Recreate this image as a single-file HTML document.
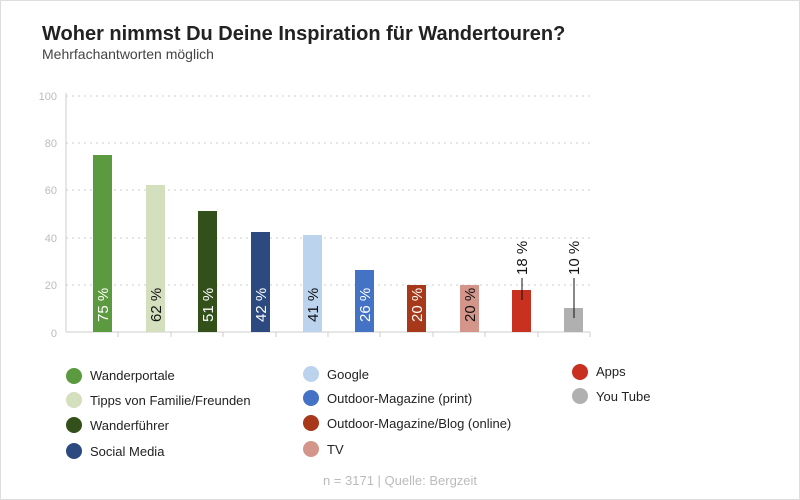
<!DOCTYPE html>
<html><head><meta charset="utf-8"><style>
body{margin:0;background:#fff}
.wrap{position:relative;width:798px;height:498px;border:1px solid #ddd;font-family:"Liberation Sans",sans-serif;overflow:hidden}
</style></head><body><div class="wrap">
<svg width="798" height="498" viewBox="1 1 798 498" xmlns="http://www.w3.org/2000/svg" font-family="Liberation Sans, sans-serif">
<text x="42" y="40" font-size="20" font-weight="bold" fill="#222">Woher nimmst Du Deine Inspiration für Wandertouren?</text>
<text x="42" y="59" font-size="14" fill="#444">Mehrfachantworten möglich</text>
<g stroke="#ccc" stroke-dasharray="2,4" stroke-width="1">
<line x1="66" x2="590" y1="96" y2="96"/><line x1="66" x2="590" y1="143" y2="143"/><line x1="66" x2="590" y1="190" y2="190"/><line x1="66" x2="590" y1="238" y2="238"/><line x1="66" x2="590" y1="285" y2="285"/>
</g>
<line x1="66" y1="93" x2="66" y2="332" stroke="#ccc"/>
<line x1="66" y1="332" x2="590" y2="332" stroke="#ccc"/>
<g stroke="#ccc"><line x1="118" y1="332" x2="118" y2="337"/><line x1="171" y1="332" x2="171" y2="337"/><line x1="223" y1="332" x2="223" y2="337"/><line x1="276" y1="332" x2="276" y2="337"/><line x1="328" y1="332" x2="328" y2="337"/><line x1="380" y1="332" x2="380" y2="337"/><line x1="433" y1="332" x2="433" y2="337"/><line x1="485" y1="332" x2="485" y2="337"/><line x1="538" y1="332" x2="538" y2="337"/><line x1="590" y1="332" x2="590" y2="337"/></g>
<g font-size="11" fill="#bbb" text-anchor="end">
<text x="57" y="100">100</text><text x="57" y="147">80</text><text x="57" y="194">60</text><text x="57" y="242">40</text><text x="57" y="289">20</text><text x="57" y="337">0</text>
</g>
<g>
<rect x="93" y="155" width="19" height="177" fill="#5b9a3f"/>
<rect x="146" y="185" width="19" height="147" fill="#d4dfbe"/>
<rect x="198" y="211" width="19" height="121" fill="#33501b"/>
<rect x="251" y="232" width="19" height="100" fill="#2c4a80"/>
<rect x="303" y="235" width="19" height="97" fill="#bcd3ee"/>
<rect x="355" y="270" width="19" height="62" fill="#4472c4"/>
<rect x="407" y="285" width="19" height="47" fill="#a8381a"/>
<rect x="460" y="285" width="19" height="47" fill="#d4968a"/>
<rect x="512" y="290" width="19" height="42" fill="#c83020"/>
<rect x="564" y="308" width="19" height="24" fill="#b0b0b0"/>
</g>
<g font-size="15">
<text transform="translate(108,322) rotate(-90)" fill="#fff">75 %</text>
<text transform="translate(161,322) rotate(-90)" fill="#111">62 %</text>
<text transform="translate(213,322) rotate(-90)" fill="#fff">51 %</text>
<text transform="translate(266,322) rotate(-90)" fill="#fff">42 %</text>
<text transform="translate(318,322) rotate(-90)" fill="#111">41 %</text>
<text transform="translate(370,322) rotate(-90)" fill="#fff">26 %</text>
<text transform="translate(422,322) rotate(-90)" fill="#fff">20 %</text>
<text transform="translate(475,322) rotate(-90)" fill="#111">20 %</text>
<text transform="translate(527,275) rotate(-90)" fill="#111">18 %</text>
<text transform="translate(579,275) rotate(-90)" fill="#111">10 %</text>
</g>
<line x1="522" y1="278" x2="522" y2="300" stroke="#111"/>
<line x1="574" y1="278" x2="574" y2="318" stroke="#111"/>
<g font-size="13" fill="#222">
<circle cx="74" cy="376" r="8" fill="#5b9a3f"/><text x="90" y="380">Wanderportale</text>
<circle cx="74" cy="400" r="8" fill="#d4dfbe"/><text x="90" y="405">Tipps von Familie/Freunden</text>
<circle cx="74" cy="425" r="8" fill="#33501b"/><text x="90" y="430">Wanderführer</text>
<circle cx="74" cy="451" r="8" fill="#2c4a80"/><text x="90" y="456">Social Media</text>
<circle cx="311" cy="374" r="8" fill="#bcd3ee"/><text x="327" y="379">Google</text>
<circle cx="311" cy="398" r="8" fill="#4472c4"/><text x="327" y="403">Outdoor-Magazine (print)</text>
<circle cx="311" cy="423" r="8" fill="#a8381a"/><text x="327" y="428">Outdoor-Magazine/Blog (online)</text>
<circle cx="311" cy="449" r="8" fill="#d4968a"/><text x="327" y="454">TV</text>
<circle cx="580" cy="372" r="8" fill="#c83020"/><text x="596" y="376">Apps</text>
<circle cx="580" cy="396" r="8" fill="#b0b0b0"/><text x="596" y="401">You Tube</text>
</g>
<text x="400" y="485" font-size="13" fill="#bbb" text-anchor="middle">n = 3171 | Quelle: Bergzeit</text>
</svg>
</div></body></html>
